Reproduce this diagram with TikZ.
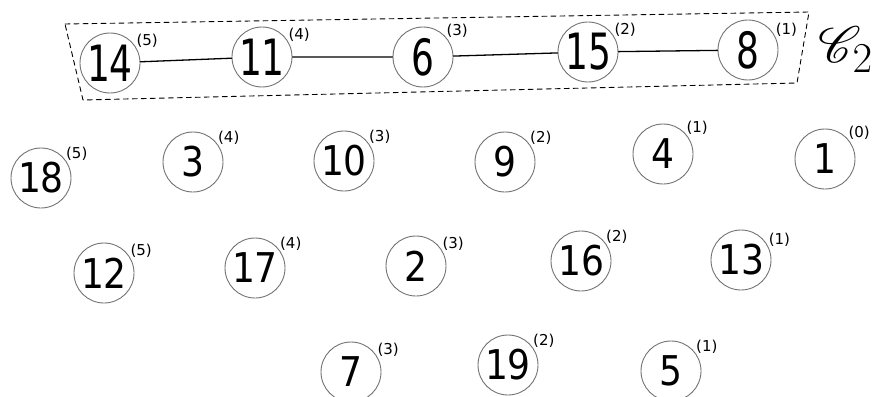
\documentclass[tikz,border=0pt]{standalone}
\usepackage{fontspec}
\setmainfont{DejaVu Sans}
\usepackage{mathrsfs}
\usepackage{graphicx}

\newcommand{\chainnum}[1]{\scalebox{0.72}[1]{\fontsize{50}{50}\selectfont #1}}
\newcommand{\freenum}[1]{\scalebox{0.88}[1]{\fontsize{41}{41}\selectfont #1}}

\begin{document}
\begin{tikzpicture}[
	x=1pt, y=-1pt,
	vtx/.style={circle, draw=black!55, line width=0.9pt, minimum size=60pt, inner sep=0pt},
	lvl/.style={font=\fontsize{15}{15}\selectfont, inner sep=0pt},
	chainedge/.style={line width=1.3pt},
	line cap=round,
	line join=round
	]
	\useasboundingbox (0,0) rectangle (880,396);
	
	% the chain C_2
	\node[vtx, label={[lvl]30:(5)}] (v14) at (110,63) {\chainnum{14}};
	\node[vtx, label={[lvl]30:(4)}] (v11) at (262,57) {\chainnum{11}};
	\node[vtx, label={[lvl]40:(3)}] (v6) at (423,57) {\chainnum{6}};
	\node[vtx, label={[lvl]30:(2)}] (v15) at (588,52) {\chainnum{15}};
	\node[vtx, label={[lvl]25:(1)}] (v8) at (748,50) {\chainnum{8}};
	
	\draw[chainedge] (v14) -- (v11) -- (v6) -- (v15) -- (v8);
	
	\draw[dashed, dash pattern=on 5pt off 4pt, line width=0.9pt]
	(65,24) -- (809,12) -- (797,83) -- (83,100) -- cycle;
	
	\node (c2) at (846,50) {\scalebox{2.05}{\fontsize{24.88}{30}\selectfont$\mathscr{C}_2$}};
	
	% second row
	\node[vtx, label={[lvl]35:(5)}] (v18) at (41,178) {\freenum{18}};
	\node[vtx, label={[lvl]35:(4)}] (v3) at (193,162) {\freenum{3}};
	\node[vtx, label={[lvl]35:(3)}] (v10) at (344,161) {\freenum{10}};
	\node[vtx, label={[lvl]35:(2)}] (v9) at (505,162) {\freenum{9}};
	\node[vtx, label={[lvl]40:(1)}] (v4) at (663,154) {\freenum{4}};
	\node[vtx, label={[lvl]40:(0)}] (v1) at (825,159) {\freenum{1}};
	
	% third row
	\node[vtx, label={[lvl]30:(5)}] (v12) at (104,273) {\freenum{12}};
	\node[vtx, label={[lvl]35:(4)}] (v17) at (255,268) {\freenum{17}};
	\node[vtx, label={[lvl]30:(3)}] (v2) at (416,266) {\freenum{2}};
	\node[vtx, label={[lvl]35:(2)}] (v16) at (581,261) {\freenum{16}};
	\node[vtx, label={[lvl]25:(1)}] (v13) at (741,260) {\freenum{13}};
	
	% fourth row
	\node[vtx, label={[lvl]30:(3)}] (v7) at (351,372) {\freenum{7}};
	\node[vtx, label={[lvl]35:(2)}] (v19) at (508,365) {\freenum{19}};
	\node[vtx, label={[lvl]35:(1)}] (v5) at (671,371) {\freenum{5}};
	
\end{tikzpicture}
\end{document}
